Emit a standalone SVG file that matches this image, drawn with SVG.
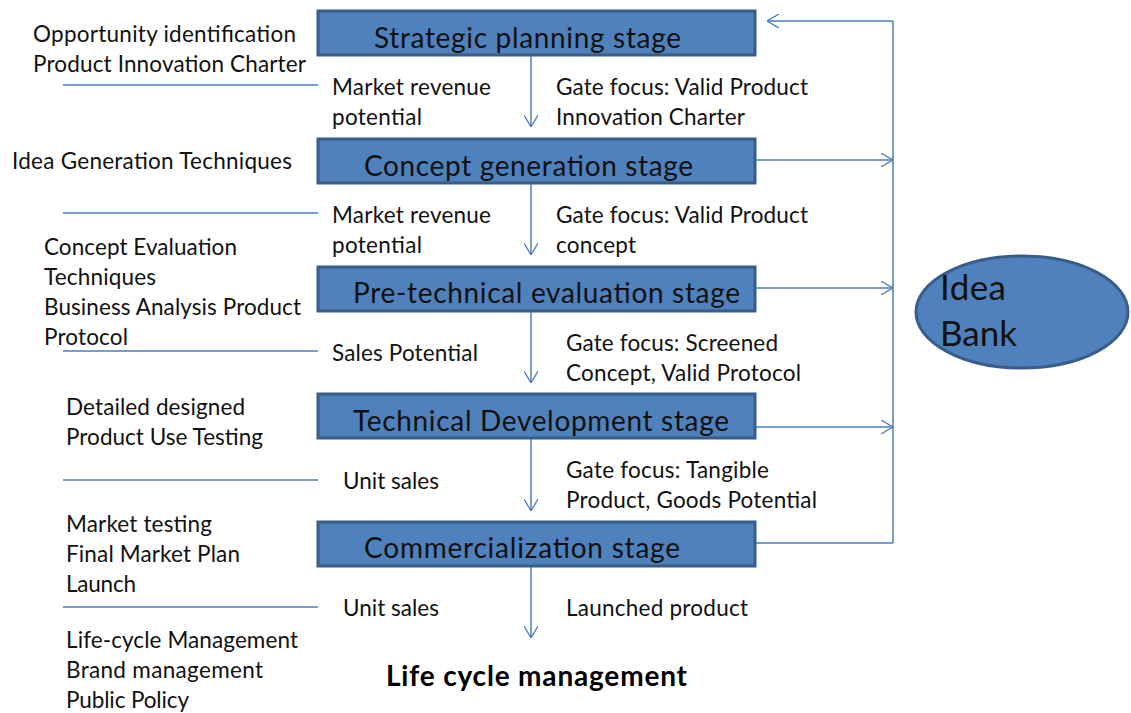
<svg xmlns="http://www.w3.org/2000/svg" width="1131" height="713" viewBox="0 0 1131 713">
<defs>
<marker id="arr" viewBox="0 0 12 14" refX="12" refY="7" markerWidth="12" markerHeight="14" markerUnits="userSpaceOnUse" orient="auto">
<path d="M0,0 L12,7 L0,14" fill="none" stroke="#4A7EBB" stroke-width="1.3"/>
</marker>
<style>
.box{fill:#4F81BD;stroke:#385D8A;stroke-width:3}
.t{font-family:Lato,"Open Sans",sans-serif;font-size:22.5px;fill:#111}
.bt{font-family:Lato,"Open Sans",sans-serif;font-size:28px;fill:#111}
.b{font-family:Lato,"Open Sans",sans-serif;font-size:28px;font-weight:bold;fill:#000}
.c{fill:none;stroke:#4A7EBB;stroke-width:1.5}
</style>
</defs>
<rect width="1131" height="713" fill="#fff"/>
<g id="connectors">
<line class="c" x1="531" y1="56" x2="531" y2="127" marker-end="url(#arr)"/>
<line class="c" x1="531" y1="184" x2="531" y2="255" marker-end="url(#arr)"/>
<line class="c" x1="531" y1="312" x2="531" y2="383" marker-end="url(#arr)"/>
<line class="c" x1="531" y1="439" x2="531" y2="511" marker-end="url(#arr)"/>
<line class="c" x1="531" y1="567" x2="531" y2="638" marker-end="url(#arr)"/>
<line class="c" x1="893" y1="543" x2="893" y2="21"/>
<line class="c" x1="756" y1="543" x2="893" y2="543"/>
<line class="c" x1="893" y1="21" x2="767" y2="21" marker-end="url(#arr)"/>
<line class="c" x1="756" y1="160" x2="893" y2="160" marker-end="url(#arr)"/>
<line class="c" x1="756" y1="288" x2="893" y2="288" marker-end="url(#arr)"/>
<line class="c" x1="756" y1="427" x2="893" y2="427" marker-end="url(#arr)"/>
<line class="c" x1="63" y1="85" x2="318" y2="85"/>
<line class="c" x1="63" y1="213" x2="318" y2="213"/>
<line class="c" x1="63" y1="351" x2="318" y2="351"/>
<line class="c" x1="63" y1="480" x2="318" y2="480"/>
<line class="c" x1="63" y1="607" x2="318" y2="607"/>
</g>
<g id="strategic">
<rect class="box" x="318" y="11" width="437" height="44"/>
<text class="bt" x="374" y="48" textLength="307" lengthAdjust="spacing">Strategic planning stage</text>
</g>
<g id="concept">
<rect class="box" x="318" y="139" width="437" height="44"/>
<text class="bt" x="364" y="176" textLength="329" lengthAdjust="spacing">Concept generation stage</text>
</g>
<g id="pretech">
<rect class="box" x="318" y="267" width="437" height="44"/>
<text class="bt" x="353" y="303" textLength="387" lengthAdjust="spacing">Pre-technical evaluation stage</text>
</g>
<g id="techdev">
<rect class="box" x="318" y="394" width="437" height="44"/>
<text class="bt" x="353" y="431" textLength="376" lengthAdjust="spacing">Technical Development stage</text>
</g>
<g id="commercial">
<rect class="box" x="318" y="522" width="437" height="44"/>
<text class="bt" x="364" y="558" textLength="316" lengthAdjust="spacing">Commercialization stage</text>
</g>
<g id="ideabank">
<ellipse cx="1022" cy="312" rx="106" ry="56" fill="#4F81BD" stroke="#385D8A" stroke-width="3"/>
<text class="t" style="font-size:35px" x="940" y="300" textLength="66" lengthAdjust="spacing">Idea</text>
<text class="t" style="font-size:35px" x="940" y="346" textLength="77" lengthAdjust="spacing">Bank</text>
</g>
<g id="labels">
<text class="t" x="33" y="42" textLength="263" lengthAdjust="spacing">Opportunity identification</text>
<text class="t" x="33" y="72" textLength="273" lengthAdjust="spacing">Product Innovation Charter</text>
<text class="t" x="332" y="95" textLength="159" lengthAdjust="spacing">Market revenue</text>
<text class="t" x="332" y="125" textLength="90" lengthAdjust="spacing">potential</text>
<text class="t" x="556" y="95" textLength="252" lengthAdjust="spacing">Gate focus: Valid Product</text>
<text class="t" x="556" y="125" textLength="189" lengthAdjust="spacing">Innovation Charter</text>
<text class="t" x="12" y="169" textLength="280" lengthAdjust="spacing">Idea Generation Techniques</text>
<text class="t" x="332" y="223" textLength="159" lengthAdjust="spacing">Market revenue</text>
<text class="t" x="332" y="253" textLength="90" lengthAdjust="spacing">potential</text>
<text class="t" x="556" y="223" textLength="252" lengthAdjust="spacing">Gate focus: Valid Product</text>
<text class="t" x="556" y="253" textLength="80" lengthAdjust="spacing">concept</text>
<text class="t" x="44" y="255" textLength="193" lengthAdjust="spacing">Concept Evaluation</text>
<text class="t" x="44" y="285" textLength="112" lengthAdjust="spacing">Techniques</text>
<text class="t" x="44" y="315" textLength="257" lengthAdjust="spacing">Business Analysis Product</text>
<text class="t" x="44" y="345" textLength="84" lengthAdjust="spacing">Protocol</text>
<text class="t" x="332" y="361" textLength="146" lengthAdjust="spacing">Sales Potential</text>
<text class="t" x="566" y="351" textLength="212" lengthAdjust="spacing">Gate focus: Screened</text>
<text class="t" x="566" y="381" textLength="235" lengthAdjust="spacing">Concept, Valid Protocol</text>
<text class="t" x="66" y="415" textLength="179" lengthAdjust="spacing">Detailed designed</text>
<text class="t" x="66" y="445" textLength="197" lengthAdjust="spacing">Product Use Testing</text>
<text class="t" x="343" y="489" textLength="96" lengthAdjust="spacing">Unit sales</text>
<text class="t" x="566" y="478" textLength="203" lengthAdjust="spacing">Gate focus: Tangible</text>
<text class="t" x="566" y="508" textLength="251" lengthAdjust="spacing">Product, Goods Potential</text>
<text class="t" x="66" y="532" textLength="146" lengthAdjust="spacing">Market testing</text>
<text class="t" x="66" y="562" textLength="174" lengthAdjust="spacing">Final Market Plan</text>
<text class="t" x="66" y="592" textLength="70" lengthAdjust="spacing">Launch</text>
<text class="t" x="343" y="616" textLength="96" lengthAdjust="spacing">Unit sales</text>
<text class="t" x="566" y="616" textLength="182" lengthAdjust="spacing">Launched product</text>
<text class="t" x="66" y="648" textLength="232" lengthAdjust="spacing">Life-cycle Management</text>
<text class="t" x="66" y="678" textLength="197" lengthAdjust="spacing">Brand management</text>
<text class="t" x="66" y="708" textLength="123" lengthAdjust="spacing">Public Policy</text>
<text class="b" x="386" y="686" textLength="301" lengthAdjust="spacing">Life cycle management</text>
</g>
</svg>
